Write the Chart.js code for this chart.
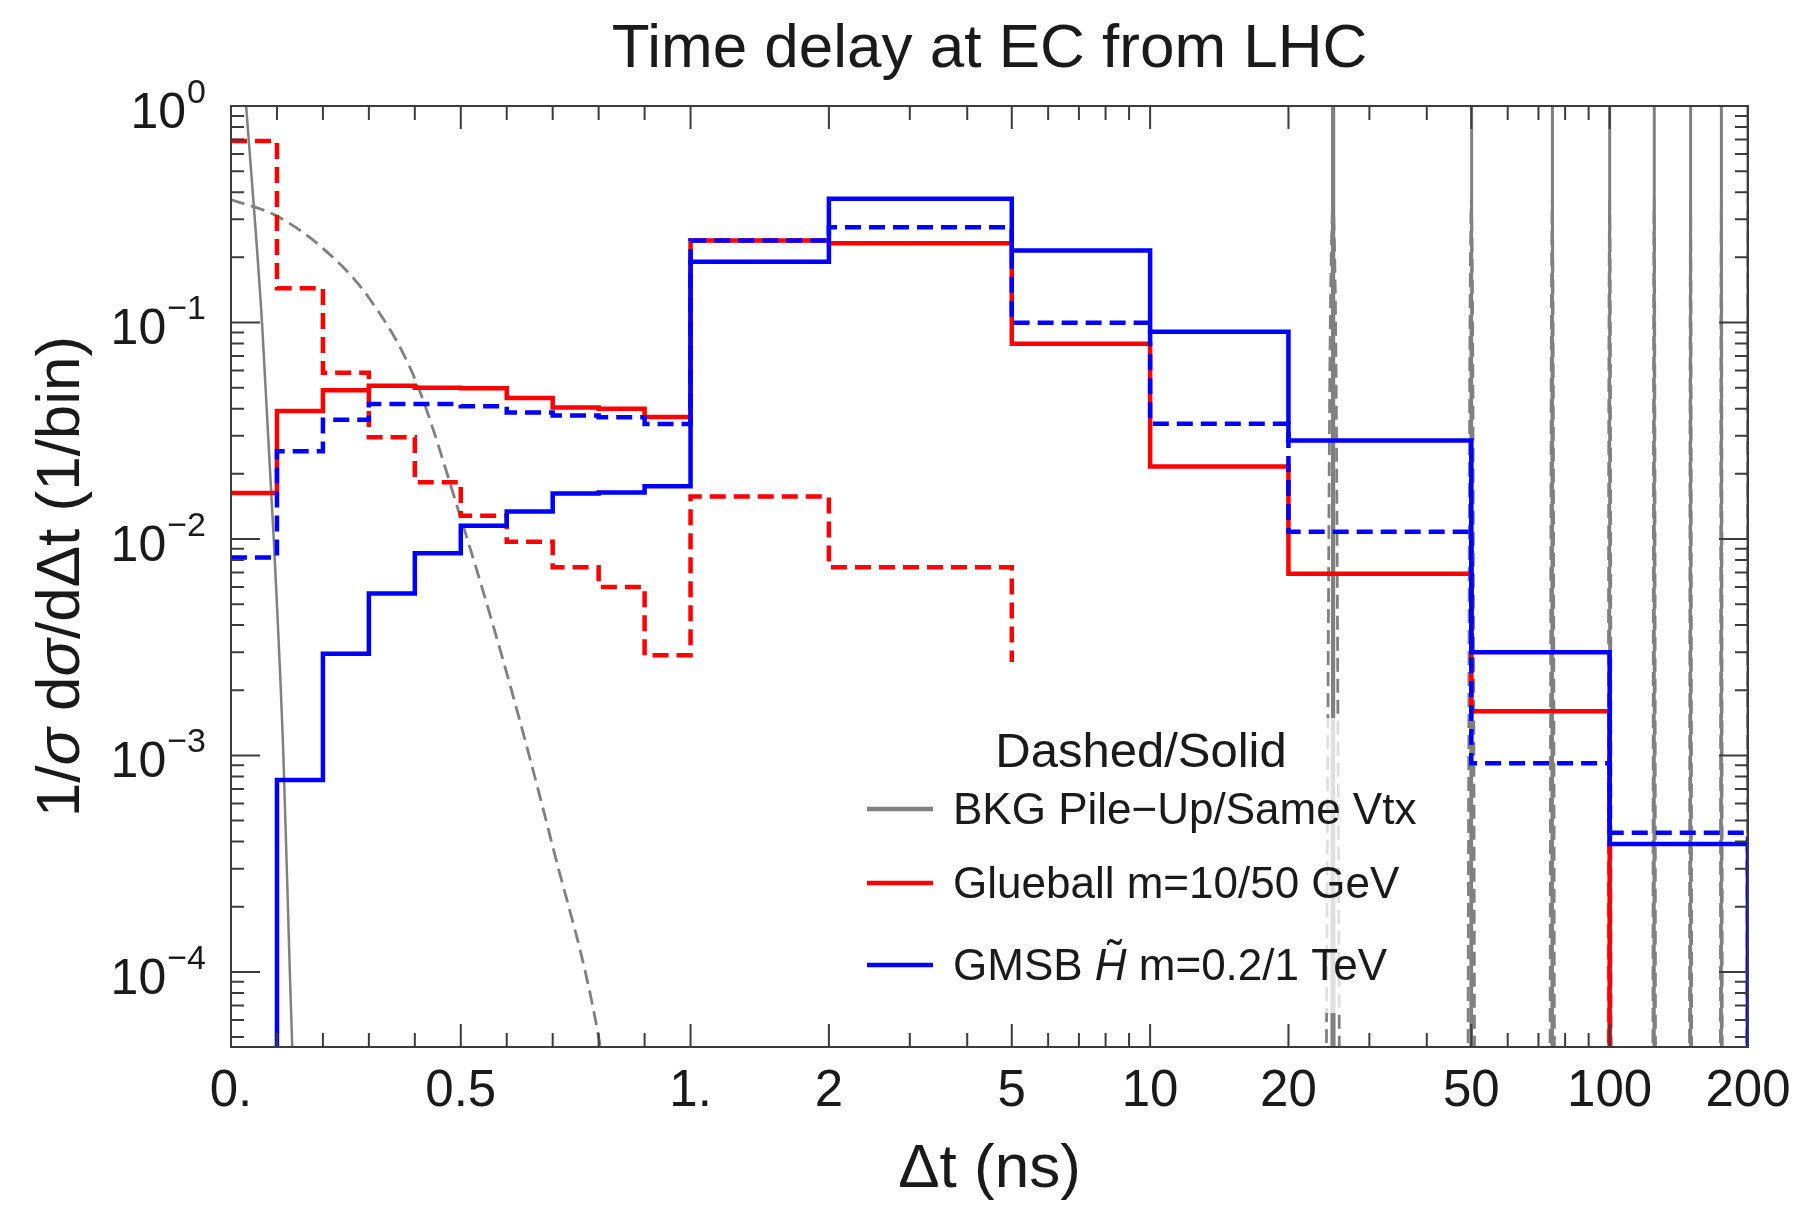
<!DOCTYPE html>
<html lang="en">
<head>
<meta charset="UTF-8">
<title>Time delay at EC from LHC</title>
<script src="https://cdn.jsdelivr.net/npm/chart.js@4.4.0/dist/chart.umd.min.js"></script>
<style>
  html, body { margin: 0; padding: 0; background: #fff; }
  canvas { display: block; }
</style>
</head>
<body>
<canvas id="chart" width="1808" height="1211"></canvas>
<script>
// histogram bin edges in ns, values per bin (1/bin)
const binEdges = [0, 0.1, 0.2, 0.3, 0.4, 0.5, 0.6, 0.7, 0.8, 0.9, 1, 2, 5, 10, 20, 50, 100, 200];
const glueball10 = [0.69, 0.144, 0.0586, 0.0295, 0.0183, 0.0128, 0.0097, 0.0074, 0.0060, 0.0029, 0.0157, 0.0074];
const glueball10End = 0.0027;   // the dashed red drop at 5 ns stops here
const glueball50 = [0.0163, 0.039, 0.0486, 0.051, 0.050, 0.0497, 0.0448, 0.0405, 0.0400, 0.0366, 0.239, 0.232, 0.0798, 0.0216, 0.0069, 0.0016, 0];
const gmsb02 = [0.0082, 0.0254, 0.0355, 0.042, 0.042, 0.041, 0.0384, 0.0372, 0.0365, 0.0340, 0.239, 0.275, 0.0997, 0.0341, 0.0108, 0.00092, 0.00044];
const gmsb1 = [0, 0.00077, 0.00295, 0.0056, 0.0086, 0.0115, 0.0134, 0.0162, 0.0164, 0.0175, 0.191, 0.373, 0.215, 0.0906, 0.0285, 0.0030, 0.00039];

// background curves [t (ns), value], read near t = 0, repeated at each bunch crossing
const bkgSameVtx = [[0.033, 1.0], [0.0675, 0.1], [0.093, 0.01], [0.114, 0.001], [0.128, 0.0001], [0.136, 0.00003]];
const bkgPileUp = [[0, 0.37], [0.1, 0.31], [0.2, 0.22], [0.3, 0.13], [0.4, 0.055], [0.5, 0.0125], [0.6, 0.0024], [0.7, 0.00038], [0.8, 0.00005], [0.815, 0.00003]];
const bunchTimes = [25, 50, 75, 100, 125, 150, 175, 200];

// axes
const xMajor = [0, 0.5, 1, 2, 5, 10, 20, 50, 100, 200];
const xMajorLabels = ['0.', '0.5', '1.', '2', '5', '10', '20', '50', '100', '200'];
const xMinor = [0.1, 0.2, 0.3, 0.4, 0.6, 0.7, 0.8, 0.9, 3, 4, 6, 7, 8, 9, 30, 40, 60, 70, 80, 90];
const yExponents = [0, -1, -2, -3, -4];
const yMin = 4.5e-5, yMax = 1;

const titleText = 'Time delay at EC from LHC';
const xTitle = 'Δt (ns)';
const yTitleParts = [['1/', false], ['σ', true], [' d', false], ['σ', true], ['/dΔt (1/bin)', false]];
const legendHeader = 'Dashed/Solid';
const legendRows = [
  { color: '#808080', parts: [['BKG Pile\u2212Up/Same Vtx', false]] },
  { color: '#ff0000', parts: [['Glueball m=10/50 GeV', false]] },
  { color: '#0000ff', parts: [['GMSB ', false], ['H', true, 'tilde'], [' m=0.2/1 TeV', false]] }
];

const FONT = '"Liberation Sans", Arial, sans-serif';
const floorValue = yMin / 1000;

// 0..1 ns linear, above 1 ns logarithmic
function tx(t) { return t <= 1 ? t : 1 + Math.log10(t); }

function histPoints(values, endLevel) {
  const pts = values.map((v, i) => ({ x: tx(binEdges[i]), y: v > 0 ? v : floorValue }));
  const n = values.length;
  const last = values[n - 1] > 0 ? values[n - 1] : floorValue;
  pts.push({ x: tx(binEdges[n]), y: last });
  pts.push({ x: tx(binEdges[n]), y: endLevel });
  return pts;
}

function curveAt(list, center) {
  const pts = [];
  for (let i = list.length - 1; i >= 0; i--) pts.push({ x: tx(center - list[i][0]), y: list[i][1] });
  for (let i = 0; i < list.length; i++) {
    if (list[i][0] === 0) continue;
    pts.push({ x: tx(center + list[i][0]), y: list[i][1] });
  }
  return pts;
}

const datasets = [];
function hist(values, endLevel, color, dashed) {
  datasets.push({
    data: histPoints(values, endLevel),
    borderColor: color, borderWidth: 4.5, borderDash: dashed ? [16, 8] : [],
    stepped: 'before', borderJoinStyle: 'miter', borderCapStyle: 'butt'
  });
}
hist(gmsb1, floorValue, '#0000ff', false);
hist(gmsb02, floorValue, '#0000ff', true);
hist(glueball50, floorValue, '#ff0000', false);
hist(glueball10, glueball10End, '#ff0000', true);

datasets.push({
  data: bkgSameVtx.map(p => ({ x: tx(p[0]), y: p[1] })),
  borderColor: '#808080', borderWidth: 2.5, cubicInterpolationMode: 'monotone'
});
datasets.push({
  data: bkgPileUp.map(p => ({ x: tx(p[0]), y: p[1] })),
  borderColor: '#808080', borderWidth: 2.8, borderDash: [14, 7], cubicInterpolationMode: 'monotone'
});
bunchTimes.forEach(c => {
  datasets.push({ data: curveAt(bkgSameVtx, c), borderColor: '#808080', borderWidth: 3 });
  datasets.push({ data: curveAt(bkgPileUp, c), borderColor: '#808080', borderWidth: 2.8, borderDash: [14, 7] });
});

function drawParts(ctx, parts, x, y, size) {
  parts.forEach(p => {
    ctx.font = (p[1] ? 'italic ' : '') + size + 'px ' + FONT;
    ctx.fillText(p[0], x, y);
    const w = ctx.measureText(p[0]).width;
    if (p[2] === 'tilde') {
      ctx.font = size + 'px ' + FONT;
      ctx.textAlign = 'center';
      ctx.fillText('\u02DC', x + w / 2 + 4, y - size * 0.2);
      ctx.textAlign = 'left';
    }
    x += w;
  });
}

function partsWidth(ctx, parts, size) {
  let w = 0;
  parts.forEach(p => {
    ctx.font = (p[1] ? 'italic ' : '') + size + 'px ' + FONT;
    w += ctx.measureText(p[0]).width;
  });
  return w;
}

const framePlugin = {
  id: 'frame',
  afterDatasetsDraw(chart) {
    const { ctx, chartArea: a } = chart;
    const sx = chart.scales.x, sy = chart.scales.y;

    // legend box lightens what lies under it
    ctx.save();
    ctx.fillStyle = 'rgba(255,255,255,0.75)';
    ctx.fillRect(850, 718, 580, 295);
    ctx.fillStyle = '#1a1a1a';
    ctx.textBaseline = 'alphabetic';
    ctx.textAlign = 'center';
    ctx.font = '49px ' + FONT;
    ctx.fillText(legendHeader, 1141, 767);
    const rowY = [809, 883, 965];
    legendRows.forEach((r, i) => {
      ctx.strokeStyle = r.color;
      ctx.lineWidth = 4.5;
      ctx.beginPath();
      ctx.moveTo(867, rowY[i]);
      ctx.lineTo(933, rowY[i]);
      ctx.stroke();
      ctx.textAlign = 'left';
      drawParts(ctx, r.parts, 953, rowY[i] + 15, 44);
    });
    ctx.restore();

    // frame and ticks on all four sides
    ctx.save();
    ctx.strokeStyle = '#3c3c3c';
    ctx.lineWidth = 2;
    ctx.beginPath();
    const xt = (list, len) => list.forEach(t => {
      const px = sx.getPixelForValue(tx(t));
      ctx.moveTo(px, a.bottom); ctx.lineTo(px, a.bottom - len);
      ctx.moveTo(px, a.top); ctx.lineTo(px, a.top + len);
    });
    xt(xMajor, 23);
    xt(xMinor, 14);
    const yt = (v, len) => {
      const py = sy.getPixelForValue(v);
      ctx.moveTo(a.left, py); ctx.lineTo(a.left + len, py);
      ctx.moveTo(a.right, py); ctx.lineTo(a.right - len, py);
    };
    for (let e = -5; e <= 0; e++) {
      for (let k = 1; k <= 9; k++) {
        const v = k * Math.pow(10, e);
        if (v < yMin || v > yMax * 1.0001) continue;
        yt(v, k === 1 ? 29 : 13);
      }
    }
    ctx.stroke();
    ctx.strokeRect(a.left, a.top, a.right - a.left, a.bottom - a.top);
    ctx.restore();
  },
  afterDraw(chart) {
    const { ctx, chartArea: a } = chart;
    const sx = chart.scales.x, sy = chart.scales.y;
    const midX = (a.left + a.right) / 2;
    ctx.save();
    ctx.fillStyle = '#1a1a1a';
    ctx.textBaseline = 'alphabetic';

    // x tick labels
    ctx.textAlign = 'center';
    ctx.font = '51px ' + FONT;
    xMajor.forEach((t, i) => ctx.fillText(xMajorLabels[i], sx.getPixelForValue(tx(t)), a.bottom + 59));

    // y tick labels 10^e
    ctx.textAlign = 'right';
    yExponents.forEach(e => {
      const py = sy.getPixelForValue(Math.pow(10, e));
      const exp = e === 0 ? '0' : '\u2212' + (-e);
      ctx.font = '34px ' + FONT;
      const ew = ctx.measureText(exp).width;
      ctx.fillText(exp, 206, py - 3);
      ctx.font = '50px ' + FONT;
      ctx.fillText('10', 206 - ew - 1, py + 22);
    });

    // titles
    ctx.textAlign = 'center';
    ctx.font = '62px ' + FONT;
    ctx.fillText(titleText, midX, 67);
    ctx.fillText(xTitle, midX, 1187);

    ctx.translate(79, (a.top + a.bottom) / 2);
    ctx.rotate(-Math.PI / 2);
    ctx.textAlign = 'left';
    drawParts(ctx, yTitleParts, -partsWidth(ctx, yTitleParts, 62) / 2, 0, 62);
    ctx.restore();
  }
};

const chart = new Chart(document.getElementById('chart'), {
  type: 'line',
  data: { datasets: datasets },
  options: {
    responsive: false,
    animation: false,
    layout: { padding: { top: 106, right: 60, left: 0, bottom: 0 } },
    elements: { point: { radius: 0 }, line: { tension: 0, fill: false } },
    plugins: { legend: { display: false }, tooltip: { enabled: false }, title: { display: false } },
    scales: {
      x: {
        type: 'linear', min: 0, max: tx(200),
        grid: { display: false }, border: { display: false }, ticks: { display: false },
        afterFit: s => { s.height = 164; }
      },
      y: {
        type: 'logarithmic', min: yMin, max: yMax,
        grid: { display: false }, border: { display: false }, ticks: { display: false },
        afterFit: s => { s.width = 231; }
      }
    }
  },
  plugins: [framePlugin]
});
</script>
</body>
</html>
